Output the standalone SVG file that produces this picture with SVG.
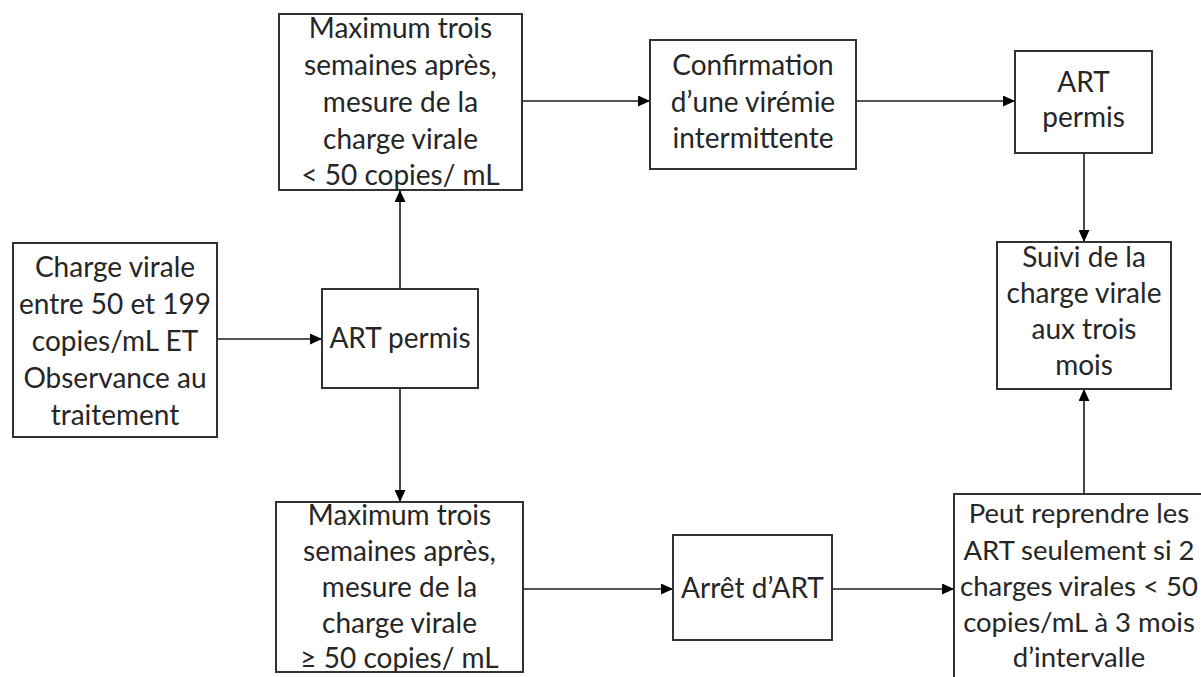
<svg xmlns="http://www.w3.org/2000/svg" width="1201" height="677" viewBox="0 0 1201 677">
<style>
.box{fill:#ffffff;stroke:#333333;stroke-width:2}
.t{font-family:Lato,"Open Sans",sans-serif;font-size:28px;fill:#262626;text-anchor:middle}
.c{stroke:#1a1a1a;stroke-width:1.6;fill:none;marker-end:url(#ah)}
</style>
<defs>
<marker id="ah" markerUnits="userSpaceOnUse" markerWidth="13" markerHeight="11" refX="12" refY="5.5" orient="auto">
<path d="M0,0 L12,5.5 L0,11 z" fill="#000000"/>
</marker>
</defs>
<rect width="1201" height="677" fill="#ffffff"/>
<g id="connectors">
<line class="c" x1="217" y1="339" x2="322" y2="339"/>
<line class="c" x1="400" y1="289" x2="400" y2="190"/>
<line class="c" x1="400" y1="388" x2="400" y2="502"/>
<line class="c" x1="522" y1="101" x2="650" y2="101"/>
<line class="c" x1="856" y1="101" x2="1015" y2="101"/>
<line class="c" x1="1084" y1="153" x2="1084" y2="242"/>
<line class="c" x1="1084" y1="494" x2="1084" y2="389"/>
<line class="c" x1="523" y1="589" x2="673" y2="589"/>
<line class="c" x1="832" y1="589" x2="954" y2="589"/>
</g>
<g id="n_charge">
<rect class="box" x="13" y="243" width="204" height="194"/>
<text class="t" x="115" y="277">Charge virale</text>
<text class="t" x="115" y="314">entre 50 et 199</text>
<text class="t" x="115" y="351">copies/mL ET</text>
<text class="t" x="115" y="388">Observance au</text>
<text class="t" x="115" y="425">traitement</text>
</g>
<g id="n_art_mid">
<rect class="box" x="322" y="289" width="156" height="99"/>
<text class="t" x="400" y="348">ART permis</text>
</g>
<g id="n_max_lt">
<rect class="box" x="279" y="14" width="243" height="176"/>
<text class="t" x="400.5" y="38">Maximum trois</text>
<text class="t" x="400.5" y="75">semaines après,</text>
<text class="t" x="400.5" y="112">mesure de la</text>
<text class="t" x="400.5" y="149">charge virale</text>
<text class="t" x="400.5" y="185">&lt; 50 copies/ mL</text>
</g>
<g id="n_max_ge">
<rect class="box" x="276" y="502" width="247" height="170"/>
<text class="t" x="399.5" y="525">Maximum trois</text>
<text class="t" x="399.5" y="561">semaines après,</text>
<text class="t" x="399.5" y="597">mesure de la</text>
<text class="t" x="399.5" y="633">charge virale</text>
<text class="t" x="399.5" y="668">≥ 50 copies/ mL</text>
</g>
<g id="n_confirm">
<rect class="box" x="650" y="40" width="206" height="129"/>
<text class="t" x="753" y="75">Confirmation</text>
<text class="t" x="753" y="112">d’une virémie</text>
<text class="t" x="753" y="148">intermittente</text>
</g>
<g id="n_art_tr">
<rect class="box" x="1015" y="51" width="137" height="102"/>
<text class="t" x="1083.5" y="92">ART</text>
<text class="t" x="1083.5" y="127">permis</text>
</g>
<g id="n_suivi">
<rect class="box" x="997" y="242" width="174" height="147"/>
<text class="t" x="1084" y="267">Suivi de la</text>
<text class="t" x="1084" y="303">charge virale</text>
<text class="t" x="1084" y="339">aux trois</text>
<text class="t" x="1084" y="375">mois</text>
</g>
<g id="n_arret">
<rect class="box" x="673" y="535" width="159" height="105"/>
<text class="t" x="752.5" y="598">Arrêt d’ART</text>
</g>
<g id="n_peut">
<rect class="box" x="954" y="494" width="262" height="200"/>
<text class="t" x="1079" y="523" style="font-size:27.5px">Peut reprendre les</text>
<text class="t" x="1079" y="560" style="font-size:27.5px">ART seulement si 2</text>
<text class="t" x="1079" y="596" style="font-size:27.5px">charges virales &lt; 50</text>
<text class="t" x="1079" y="632" style="font-size:27.5px">copies/mL à 3 mois</text>
<text class="t" x="1079" y="667" style="font-size:27.5px">d’intervalle</text>
</g>
</svg>
